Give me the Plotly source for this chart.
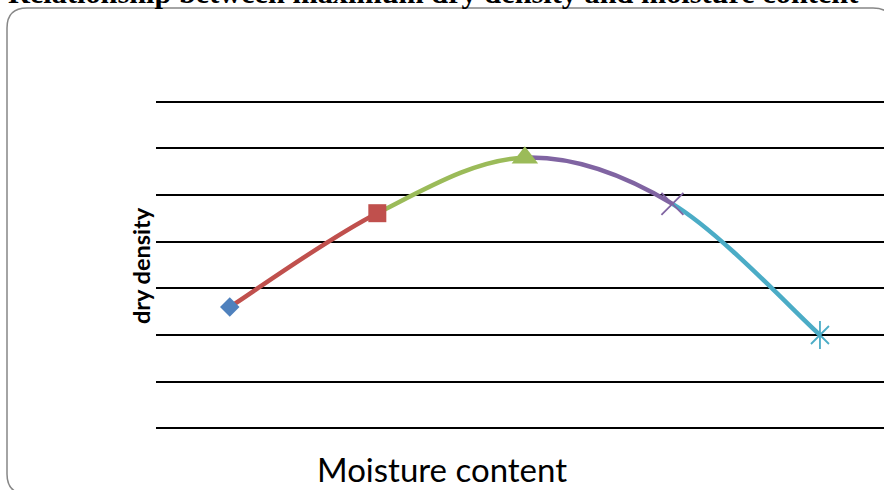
import plotly.graph_objects as go

# ---- data (unlabeled value axis, units = gridline steps) ----
categories = [1, 2, 3, 4, 5]
dry_density = [2.60, 4.61, 5.80, 4.81, 2.00]
point_colors = ["#4F81BD", "#C0504D", "#9BBB59", "#8064A2", "#4BACC6"]
point_symbols = ["diamond", "square", "triangle-up", "x-thin-open", "line-ns-open"]
point_sizes = [15, 18, 23, 22, 20]
title_text = "Relationship between maximum dry density and moisture content"
x_title = "Moisture content"
y_title = "dry density"

W, H = 884, 490
ML, MR, MT, MB = 156, 0, 97, 57
PW, PH = W - ML - MR, H - MT - MB


def px(xp):
    return (xp - ML) / PW


def py(yp):
    return (H - MB - yp) / PH


fig = go.Figure()

# smoothed line segments (Excel-style Catmull-Rom Bezier), coloured by end point
shapes = []
n = len(categories)
for i in range(n - 1):
    p0 = (categories[i], dry_density[i])
    p1 = (categories[i + 1], dry_density[i + 1])
    pm = (categories[i - 1], dry_density[i - 1]) if i > 0 else p0
    pn = (categories[i + 2], dry_density[i + 2]) if i + 2 < n else p1
    c1 = (p0[0] + (p1[0] - pm[0]) / 6, p0[1] + (p1[1] - pm[1]) / 6)
    c2 = (p1[0] - (pn[0] - p0[0]) / 6, p1[1] - (pn[1] - p0[1]) / 6)
    path = f"M {p0[0]},{p0[1]} C {c1[0]},{c1[1]} {c2[0]},{c2[1]} {p1[0]},{p1[1]}"
    shapes.append(dict(type="path", xref="x", yref="y", path=path,
                       line=dict(color=point_colors[i + 1], width=4.5), layer="between"))


def add_marker(x, y, symbol, size, color):
    if symbol.endswith("open"):
        mk = dict(symbol=symbol, size=size, color=color, line=dict(color=color, width=1.8))
    else:
        mk = dict(symbol=symbol, size=size, color=color, line=dict(width=0))
    fig.add_trace(go.Scatter(x=[x], y=[y], mode="markers", marker=mk,
                             showlegend=False, hoverinfo="skip"))


for i in range(n):
    if i == n - 1:
        # Excel "star": x plus a vertical bar
        add_marker(categories[i], dry_density[i], "x-thin-open", 18, point_colors[i])
        add_marker(categories[i], dry_density[i], "line-ns-open", 20, point_colors[i])
    else:
        add_marker(categories[i], dry_density[i], point_symbols[i], point_sizes[i], point_colors[i])

# rounded border
bx0, by0, bx1, by1, r = 7, 8, 893, 494, 20
border = (f"M {px(bx0 + r)},{py(by0)} L {px(bx1 - r)},{py(by0)} "
          f"Q {px(bx1)},{py(by0)} {px(bx1)},{py(by0 + r)} "
          f"L {px(bx1)},{py(by1 - r)} Q {px(bx1)},{py(by1)} {px(bx1 - r)},{py(by1)} "
          f"L {px(bx0 + r)},{py(by1)} Q {px(bx0)},{py(by1)} {px(bx0)},{py(by1 - r)} "
          f"L {px(bx0)},{py(by0 + r)} Q {px(bx0)},{py(by0)} {px(bx0 + r)},{py(by0)} Z")
shapes.append(dict(type="path", xref="paper", yref="paper", path=border,
                   line=dict(color="#878787", width=1.5), layer="below"))

annotations = [
    dict(text=f"<b>{title_text}</b>", xref="paper", yref="paper", x=px(433), y=py(12),
         xanchor="center", yanchor="bottom", showarrow=False,
         font=dict(family="Liberation Serif", size=30.3, color="black")),
    dict(text=f"<b>{y_title}</b>", xref="paper", yref="paper", x=px(141), y=py(266),
         xanchor="center", yanchor="middle", textangle=-90, showarrow=False,
         font=dict(family="Lato", size=23.5, color="black")),
    dict(text=x_title, xref="paper", yref="paper", x=px(442), y=py(469),
         xanchor="center", yanchor="middle", showarrow=False,
         font=dict(family="Lato", size=33, color="black")),
]

fig.update_layout(
    width=W, height=H,
    margin=dict(l=ML, r=MR, t=MT, b=MB, pad=0),
    paper_bgcolor="white", plot_bgcolor="white",
    shapes=shapes, annotations=annotations,
    showlegend=False,
    xaxis=dict(range=[0.5, 5.434], showgrid=False, zeroline=False, showline=False,
               showticklabels=False, ticks=""),
    yaxis=dict(range=[-0.1, 7.1], dtick=1, tick0=0, showgrid=True, gridcolor="black",
               gridwidth=1.8, zeroline=False, showline=False, showticklabels=False, ticks=""),
)

fig.write_html("out.html", config={"displayModeBar": False},
               post_script="document.body.style.margin='0';")
